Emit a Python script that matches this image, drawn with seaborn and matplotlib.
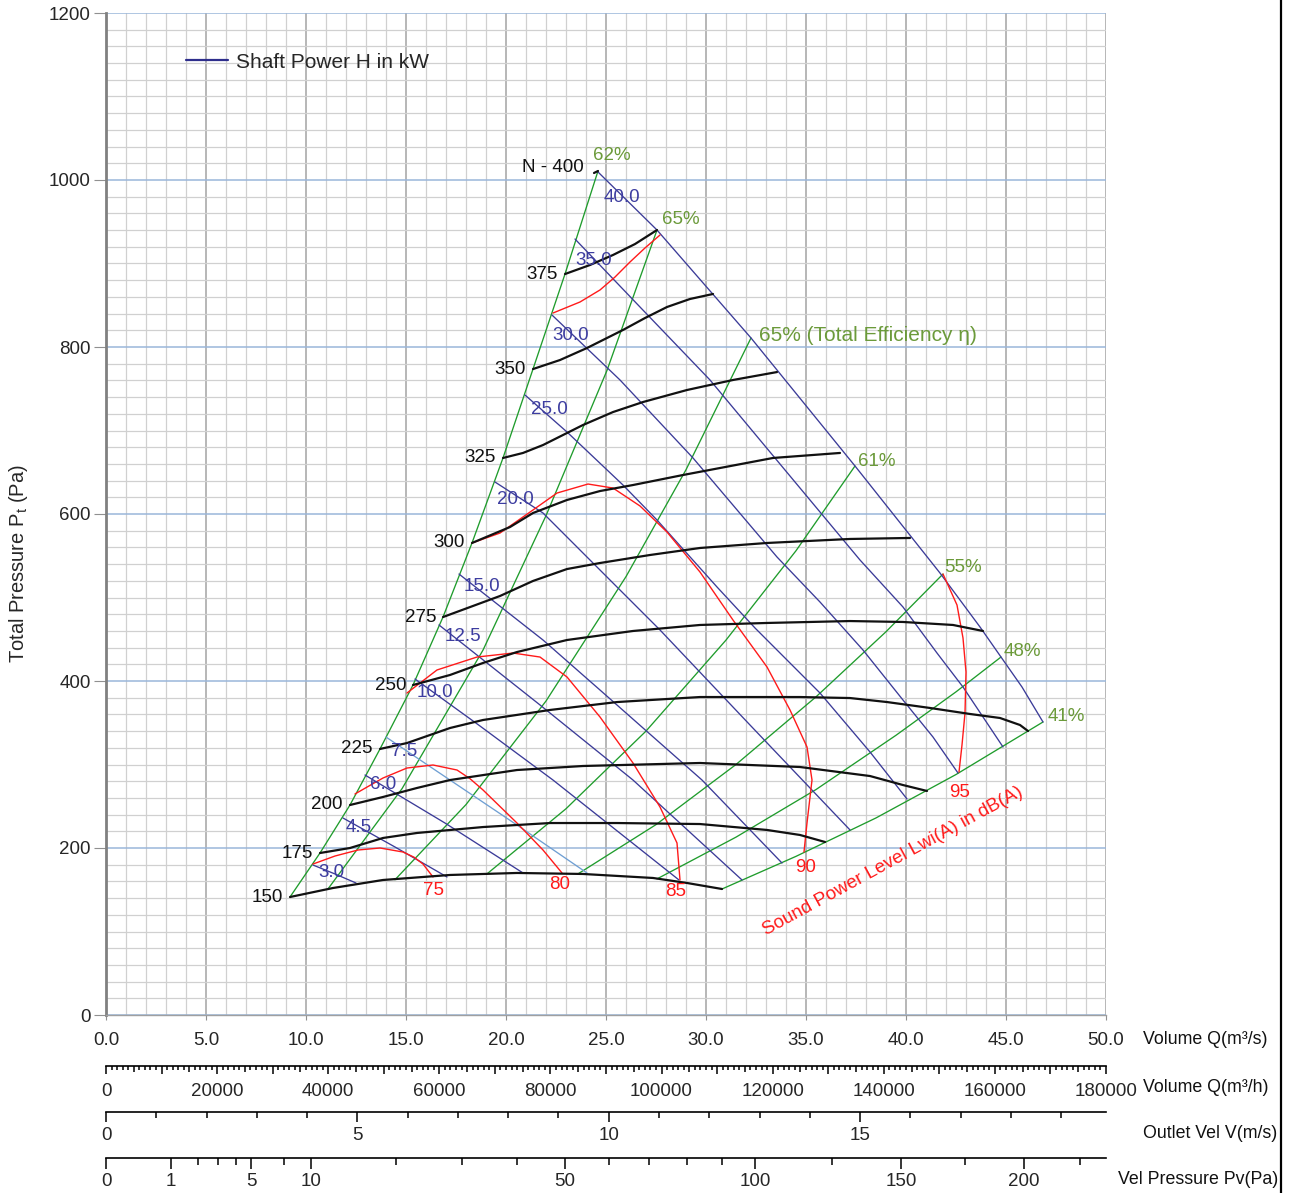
import numpy as np
import pandas as pd
import matplotlib
matplotlib.use("Agg")
import matplotlib.pyplot as plt
import seaborn as sns
from matplotlib.ticker import MultipleLocator, FixedLocator, FuncFormatter
from matplotlib.lines import Line2D

# ---------------- data (Q in m3/s, Pt in Pa) ----------------
speed_curves = {
    "N - 400": [(24.4, 1008.4), (24.6, 1010.8)],
    "375": [(22.95, 887.4), (24.2, 898.2), (25.35, 910.2), (26.45, 923.3), (27.55, 940.1)],
    "350": [(21.35, 773.6), (22.7, 784.4), (24.05, 798.8), (25.85, 820.4), (26.95, 834.7),
            (28.05, 847.9), (29.2, 857.5), (30.35, 863.5)],
    "325": [(19.85, 667.1), (20.85, 673.1), (21.85, 682.6), (23.85, 706.6), (25.35, 722.1),
            (26.85, 734.1), (29.05, 748.5), (31.35, 760.5), (33.55, 770.0)],
    "300": [(18.3, 565.3), (20.2, 584.4), (21.35, 601.2), (23.05, 616.8), (24.7, 627.5),
            (26.35, 634.7), (28.85, 646.7), (33.35, 667.1), (36.7, 673.1)],
    "275": [(16.85, 476.6), (19.7, 501.8), (21.35, 519.8), (23.05, 534.1), (24.7, 541.3),
            (27.2, 550.9), (29.7, 559.3), (33.05, 565.3), (37.2, 570.1), (40.2, 571.3)],
    "250": [(15.35, 395.2), (17.2, 407.2), (18.85, 421.6), (20.55, 434.7), (23.05, 449.1),
            (26.35, 459.9), (29.7, 467.1), (33.05, 469.5), (37.2, 471.8), (39.85, 470.7),
            (42.35, 467.1), (43.85, 459.9)],
    "225": [(13.7, 318.6), (15.05, 325.7), (17.2, 343.7), (18.85, 353.3), (22.2, 365.3),
            (25.55, 374.8), (29.7, 380.8), (34.7, 380.8), (37.2, 379.6), (39.05, 374.8),
            (41.2, 367.7), (43.2, 360.5), (44.7, 355.7), (45.7, 347.3), (46.1, 340.1)],
    "200": [(12.2, 251.5), (13.85, 261.1), (15.55, 271.9), (17.2, 281.4), (20.55, 293.4),
            (23.85, 298.2), (29.7, 301.8), (34.7, 297.0), (38.2, 286.2), (39.85, 275.4),
            (41.05, 268.3)],
    "175": [(10.7, 194.0), (12.2, 200.0), (13.85, 212.0), (15.55, 218.0), (18.85, 225.1),
            (22.2, 229.9), (25.55, 229.9), (29.7, 228.7), (33.05, 221.6), (34.7, 215.6),
            (35.95, 207.2)],
    "150": [(9.2, 141.3), (11.35, 152.1), (13.85, 161.7), (17.2, 167.7), (20.55, 170.1),
            (23.85, 168.9), (27.35, 164.1), (29.05, 158.1), (30.8, 150.9)],
}

efficiency_curves = {
    "62%": [(9.2, 141.3), (10.7, 194.0), (12.2, 251.5), (13.7, 318.6), (15.35, 395.2),
            (16.85, 476.6), (18.3, 565.3), (19.85, 667.1), (21.35, 773.6), (22.95, 887.4),
            (24.6, 1010.8)],
    "65%": [(11.1, 151.0), (14.8, 271.0), (18.85, 437.0), (22.0, 598.0), (25.05, 772.0),
            (27.55, 940.1)],
    "65% (Total Efficiency \u03b7)": [(14.45, 162.0), (18.0, 252.0), (22.0, 376.0), (26.0, 525.0),
                                     (29.0, 653.0), (32.25, 810.8)],
    "61%": [(19.05, 169.0), (23.0, 247.0), (27.0, 340.0), (31.0, 449.0), (34.5, 556.0),
            (37.45, 657.5)],
    "55%": [(23.6, 169.0), (27.5, 228.0), (31.5, 300.0), (35.5, 381.0), (39.0, 459.0),
            (41.85, 528.1)],
    "48%": [(27.55, 163.0), (31.5, 213.0), (35.5, 270.0), (39.5, 335.0), (42.5, 387.0),
            (44.75, 428.7)],
    "41%": [(30.8, 150.9), (34.5, 190.0), (38.5, 236.0), (42.5, 288.0), (46.85, 350.9)],
}

power_curves = {
    "40.0": [(24.6, 1009.6), (27.55, 940.1), (32.25, 810.8), (37.45, 657.5), (41.7, 529.3),
             (43.7, 464.7), (44.75, 428.7), (45.8, 392.8), (46.85, 350.9)],
    "35.0": [(23.45, 929.3), (26.7, 847.9), (30.2, 760.5), (32.7, 688.6), (37.7, 544.9),
             (39.85, 488.6), (41.55, 433.5), (42.85, 392.8), (44.85, 321.0)],
    "30.0": [(22.3, 838.3), (25.7, 760.5), (29.35, 667.1), (33.55, 548.5), (35.7, 494.6),
             (37.85, 437.1), (39.85, 377.2), (41.35, 332.9), (42.6, 289.8)],
    "25.0": [(20.95, 742.5), (23.05, 698.2), (25.85, 634.7), (27.55, 592.8), (30.55, 512.6),
             (32.45, 463.5), (35.7, 385.6), (38.2, 315.0), (40.05, 258.7)],
    "20.0": [(19.45, 638.3), (21.85, 601.2), (24.55, 536.5), (27.7, 461.1), (32.2, 347.3),
             (37.2, 221.6)],
    "15.0": [(17.65, 528.1), (21.85, 449.1), (24.7, 389.2), (29.8, 281.4), (33.8, 182.0)],
    "12.5": [(16.65, 467.1), (21.7, 371.3), (26.35, 281.4), (31.8, 161.7)],
    "10.0": [(15.45, 402.4), (18.7, 346.1), (22.35, 281.4), (28.65, 161.7)],
    "7.5": [(14.0, 332.9), (17.2, 281.4), (20.7, 225.1), (24.05, 170.1)],
    "6.0": [(12.95, 287.4), (16.95, 229.9), (20.85, 170.1)],
    "4.5": [(11.85, 235.9), (14.45, 201.2), (17.05, 165.3)],
    "3.0": [(10.35, 179.6), (11.45, 168.9), (12.5, 158.1)],
}

sound_curves = {
    "75": [(10.35, 180.8), (11.45, 190.4), (12.6, 197.6), (13.7, 200.0), (14.85, 195.2),
           (15.4, 189.0), (15.85, 180.8), (16.35, 165.3)],
    "80": [(12.45, 264.7), (13.2, 275.0), (13.85, 283.8), (15.05, 295.8), (16.35, 299.4),
           (17.55, 293.4), (18.2, 283.0), (18.85, 269.5), (20.55, 229.9), (21.85, 197.6),
           (22.8, 170.1)],
    "85": [(15.05, 385.6), (16.55, 413.2), (18.55, 428.7), (20.35, 433.5), (21.7, 428.7),
           (23.05, 404.8), (24.7, 356.9), (26.35, 301.8), (27.7, 249.1), (28.55, 206.0),
           (28.7, 161.7)],
    "90": [(18.3, 565.3), (19.7, 577.2), (21.35, 604.8), (22.55, 625.1), (24.1, 635.9),
           (25.35, 631.1), (26.7, 609.6), (28.05, 578.4), (29.7, 530.5), (31.35, 473.0),
           (33.05, 416.8), (34.2, 365.3), (35.05, 321.0), (35.3, 281.4), (35.05, 229.9),
           (34.9, 195.2)],
    "95": [(41.85, 528.1), (42.55, 491.0), (42.85, 451.5), (43.0, 410.8), (42.95, 361.7),
           (42.8, 323.4), (42.65, 291.0)],
    "": [(22.35, 840.7), (23.7, 853.9), (24.7, 868.3), (25.45, 883.8), (26.2, 901.8),
         (26.95, 918.6), (27.7, 934.1)],
}

x_ticks = [0, 5, 10, 15, 20, 25, 30, 35, 40, 45, 50]
y_ticks = [0, 200, 400, 600, 800, 1000, 1200]
m3h_labels = [0, 20000, 40000, 60000, 80000, 100000, 120000, 140000, 160000, 180000]
vel_labels = [0, 5, 10, 15]
pv_major = [0, 1, 5, 10, 50, 100, 150, 200]
pv_minor = [2, 3, 4, 7.5, 20, 30, 40, 60, 70, 80, 90, 125, 175, 225]

# ---------------- style ----------------
sns.set_style("white")
plt.rcParams["font.family"] = ["Liberation Sans", "DejaVu Sans"]
plt.rcParams["mathtext.fontset"] = "custom"
plt.rcParams["mathtext.rm"] = "Liberation Sans"
plt.rcParams["mathtext.it"] = "Liberation Sans"

BLACK = "#111111"
BLUE = "#3b3b98"
LIGHTBLUE = "#6f9fd3"
GREEN = "#1f9c2c"
GREEN_TXT = "#6b9a3a"
RED = "#ff1a1a"
BLUE_TXT = "#3d3da0"

W, H = 1293, 1193
fig = plt.figure(figsize=(W / 100, H / 100), dpi=100)
fig.patch.set_facecolor("white")
ax = fig.add_axes([106 / W, 1 - 1015 / H, 1000 / W, 1002 / H])


def to_df(curves):
    rows = []
    for name, pts in curves.items():
        for i, (q, p) in enumerate(pts):
            rows.append((name if name else "_x", i, q, p))
    return pd.DataFrame(rows, columns=["curve", "idx", "Q", "P"])


df_eff = to_df(efficiency_curves)
df_pow = to_df(power_curves)
df_snd = to_df(sound_curves)
df_spd = to_df(speed_curves)

sns.lineplot(data=df_eff, x="Q", y="P", units="curve", estimator=None, sort=False,
             color=GREEN, lw=0.95, ax=ax, legend=False)
pal = {k: (LIGHTBLUE if k == "7.5" else BLUE) for k in power_curves}
sns.lineplot(data=df_pow, x="Q", y="P", hue="curve", units="curve", estimator=None,
             sort=False, palette=pal, lw=0.95, ax=ax, legend=False)
sns.lineplot(data=df_snd, x="Q", y="P", units="curve", estimator=None, sort=False,
             color=RED, lw=1.0, ax=ax, legend=False)
sns.lineplot(data=df_spd, x="Q", y="P", units="curve", estimator=None, sort=False,
             color=BLACK, lw=1.6, ax=ax, legend=False)

# ---------------- axes / grid ----------------
ax.set_xlim(0, 50)
ax.set_ylim(0, 1200)
ax.set_xticks(x_ticks)
ax.set_xticklabels([f"{v:.1f}" for v in x_ticks])
ax.xaxis.set_minor_locator(MultipleLocator(1))
ax.set_yticks(y_ticks)
ax.set_yticklabels([str(v) for v in y_ticks])
ax.yaxis.set_minor_locator(MultipleLocator(20))
ax.set_axisbelow(True)
ax.xaxis.grid(True, which="major", color="#a3a3a3", lw=1.1)
ax.xaxis.grid(True, which="minor", color="#d0d0d0", lw=0.9)
ax.yaxis.grid(True, which="major", color="#9ab6da", lw=1.1)
ax.yaxis.grid(True, which="minor", color="#d0d0d0", lw=0.9)
for s in ("top", "right"):
    ax.spines[s].set_visible(False)
ax.spines["left"].set_color("#808080")
ax.spines["left"].set_linewidth(2.0)
ax.spines["bottom"].set_color("#a0a0a0")
ax.spines["bottom"].set_linewidth(1.0)
ax.tick_params(axis="x", which="major", length=3.5, color="#909090", pad=9, labelsize=13.5,
               bottom=True)
ax.tick_params(axis="x", which="minor", length=0)
ax.tick_params(axis="y", which="major", length=9, color="#909090", pad=2, labelsize=13.5,
               left=True)
ax.tick_params(axis="y", which="minor", length=0)
ax.set_xlabel("")
ax.set_ylabel("Total Pressure P$_\\mathrm{t}$ (Pa)", fontsize=14.5)
ax.yaxis.set_label_coords(-0.076, 0.451)

# ---------------- annotations ----------------
for name, pts in speed_curves.items():
    q, p = pts[0]
    off = (-10, 5) if name.startswith("N") else (-7, 0)
    ax.annotate(name, xy=(q, p), xytext=off, textcoords="offset pixels",
                ha="right", va="center", fontsize=13.5, color=BLACK)

blue_offsets = {"40.0": (24, -26), "35.0": (19, -21), "30.0": (19, -20), "25.0": (24, -14),
                "20.0": (20, -17), "15.0": (23, -12), "12.5": (24, -12), "10.0": (20, -14),
                "7.5": (18, -14), "6.0": (18, -9), "4.5": (16, -9), "3.0": (18, -7)}
for name, pts in power_curves.items():
    q, p = pts[0]
    ax.annotate(name, xy=(q, p), xytext=blue_offsets[name], textcoords="offset pixels",
                ha="center", va="center", fontsize=13.5, color=BLUE_TXT)

eff_offsets = {"62%": (-5, 15), "65%": (5, 11), "65% (Total Efficiency \u03b7)": (8, 2),
               "61%": (3, 4), "55%": (1, 7), "48%": (3, 6), "41%": (5, 5)}
for name, pts in efficiency_curves.items():
    q, p = pts[-1]
    fs = 15 if "Total" in name else 13.5
    ax.annotate(name, xy=(q, p), xytext=eff_offsets[name], textcoords="offset pixels",
                ha="left", va="center", fontsize=fs, color=GREEN_TXT)

snd_offsets = {"75": (0, -14), "80": (-2, -12), "85": (-4, -12), "90": (2, -15), "95": (1, -20)}
for name, pts in sound_curves.items():
    if not name:
        continue
    q, p = pts[-1]
    ax.annotate(name, xy=(q, p), xytext=snd_offsets[name], textcoords="offset pixels",
                ha="center", va="center", fontsize=13.5, color=RED)

ax.text(39.35, 184.4, "Sound Power Level Lwi(A) in dB(A)", rotation=28.6,
        rotation_mode="anchor", ha="center", va="center", fontsize=13.5, color=RED)

handle = Line2D([], [], color="#2e2e8c", lw=1.6)
ax.legend([handle], ["Shaft Power H in kW"], loc="center left", bbox_to_anchor=(0.08, 0.951),
          frameon=False, fontsize=15, handlelength=2.0, handletextpad=0.4,
          borderpad=0, borderaxespad=0)

# ---------------- secondary scales ----------------
def scale_axis(y_px):
    a = fig.add_axes([106 / W, 1 - y_px / H, 1000 / W, 1e-4])
    a.patch.set_visible(False)
    for s in ("top", "left", "right"):
        a.spines[s].set_visible(False)
    a.spines["bottom"].set_linewidth(1.2)
    a.spines["bottom"].set_color("black")
    a.tick_params(axis="y", left=False, labelleft=False)
    a.tick_params(axis="x", which="both", direction="out", color="black", width=1.1,
                  labelsize=13.5, bottom=True, labelbottom=True)
    return a


# Volume m3/h
a1 = scale_axis(1066)
a1.set_xlim(0, 180000)
a1.xaxis.set_major_locator(MultipleLocator(5000))
a1.xaxis.set_minor_locator(MultipleLocator(1000))
a1.xaxis.set_major_formatter(FuncFormatter(lambda v, pos: f"{int(round(v))}" if int(round(v)) in m3h_labels else ""))
a1.tick_params(axis="x", which="major", length=6, pad=6)
a1.tick_params(axis="x", which="minor", length=3)
fig.canvas.draw()
for t in a1.xaxis.get_major_ticks():
    loc = t.get_loc()
    if loc is not None and int(round(loc)) % 10000 != 0:
        t.tick1line.set_markersize(4.3)

# Outlet velocity
a2 = scale_axis(1112)
a2.set_xlim(0, 19.89)
a2.set_xticks(vel_labels)
a2.set_xticklabels([str(v) for v in vel_labels])
a2.xaxis.set_minor_locator(MultipleLocator(1))
a2.tick_params(axis="x", which="major", length=7.5, pad=3.5)
a2.tick_params(axis="x", which="minor", length=4)

# Velocity pressure (square-root scale of outlet velocity)
a3 = scale_axis(1158)
a3.set_xscale("function", functions=(lambda x: np.sqrt(np.maximum(x, 0) / 0.6),
                                      lambda v: 0.6 * np.asarray(v) ** 2))
a3.set_xlim(0, 0.6 * 19.89 ** 2)
a3.xaxis.set_major_locator(FixedLocator(pv_major))
a3.xaxis.set_minor_locator(FixedLocator(pv_minor))
a3.xaxis.set_major_formatter(FuncFormatter(lambda v, pos: f"{v:g}"))
a3.xaxis.set_minor_formatter(FuncFormatter(lambda v, pos: ""))
a3.tick_params(axis="x", which="major", length=8, pad=3)
a3.tick_params(axis="x", which="minor", length=5)

# right-hand captions
for y_px, txt, x_px in [(1040, "Volume Q(m\u00b3/s)", 1143), (1088, "Volume Q(m\u00b3/h)", 1143),
                        (1134, "Outlet Vel V(m/s)", 1143), (1180, "Vel Pressure Pv(Pa)", 1118)]:
    fig.text(x_px / W, 1 - y_px / H, txt, ha="left", va="center", fontsize=12.8, color="#111111")

fig.add_artist(Line2D([1281 / W, 1281 / W], [0, 1], transform=fig.transFigure,
                      color="black", lw=1.6))

fig.savefig("out.png", dpi=100, facecolor="white")
